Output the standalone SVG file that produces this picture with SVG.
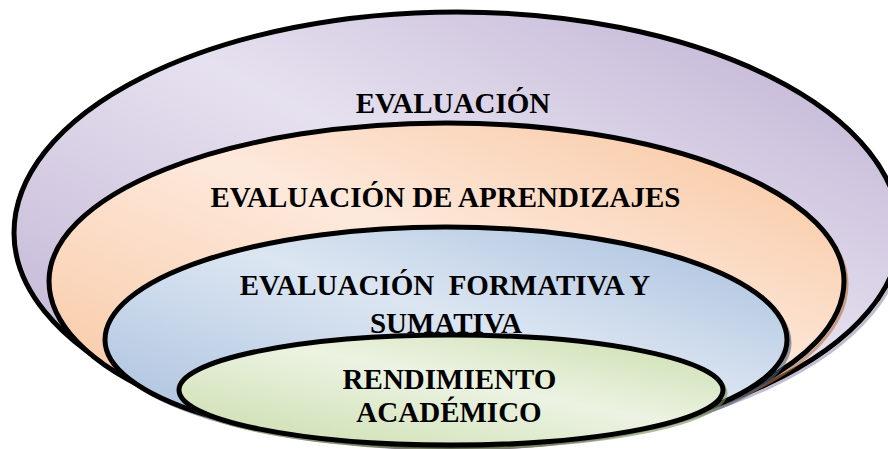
<svg xmlns="http://www.w3.org/2000/svg" xmlns:xlink="http://www.w3.org/1999/xlink" width="888" height="449" viewBox="0 0 888 449">
<style>
  .shape { stroke: #000; stroke-width: 5; }
  .shadow { fill: none; stroke-width: 3; opacity: 0.6; }
  .label { font-family: "Liberation Serif", "Times New Roman", serif; font-weight: bold; font-size: 29px; fill: #000; text-anchor: middle; }
</style>
<defs>
  <linearGradient id="gPurple" x1="1" y1="0" x2="0" y2="1">
    <stop offset="0" stop-color="#bcadd1"/>
    <stop offset="0.45" stop-color="#e6e1ef"/>
    <stop offset="1" stop-color="#bcadd1"/>
  </linearGradient>
  <linearGradient id="gOrange" x1="1" y1="0" x2="0" y2="1">
    <stop offset="0" stop-color="#f8c39a"/>
    <stop offset="0.45" stop-color="#fde9dc"/>
    <stop offset="1" stop-color="#f8c39a"/>
  </linearGradient>
  <linearGradient id="gBlue" x1="1" y1="0" x2="0" y2="1">
    <stop offset="0" stop-color="#a5bddc"/>
    <stop offset="0.45" stop-color="#dce6f2"/>
    <stop offset="1" stop-color="#a5bddc"/>
  </linearGradient>
  <linearGradient id="gGreen" x1="1" y1="0" x2="0" y2="1">
    <stop offset="0" stop-color="#c9dcaa"/>
    <stop offset="0.45" stop-color="#ecf3e2"/>
    <stop offset="1" stop-color="#c9dcaa"/>
  </linearGradient>
  <path id="pOuter" d="M 14 233 A 443 221 0 0 1 900 233 A 450 213 0 0 1 450 446 A 436 213 0 0 1 14 233 Z"/>
  <path id="pOrange" d="M 49 281 A 397.5 158 0 0 1 844 281 A 394 165 0 0 1 450 446 A 401 165 0 0 1 49 281 Z"/>
  <path id="pBlue" d="M 105 340 A 341 113 0 0 1 787 340 A 337 106 0 0 1 450 446 A 345 106 0 0 1 105 340 Z"/>
  <ellipse id="pGreen" cx="451" cy="390" rx="272" ry="55"/>
</defs>
<rect width="888" height="449" fill="#ffffff"/>

<g id="node-evaluacion">
  <use xlink:href="#pOuter" class="shadow" stroke="#9a8fb0" transform="translate(3,3)"/>
  <use xlink:href="#pOuter" class="shape" fill="url(#gPurple)"/>
  <text class="label" x="453" y="113">EVALUACIÓN</text>
</g>

<g id="node-aprendizajes">
  <use xlink:href="#pOrange" class="shadow" stroke="#b5773f" transform="translate(3,3)"/>
  <use xlink:href="#pOrange" class="shape" fill="url(#gOrange)"/>
  <text class="label" x="445.5" y="207">EVALUACIÓN DE APRENDIZAJES</text>
</g>

<g id="node-formativa">
  <use xlink:href="#pBlue" class="shadow" stroke="#4e5f78" transform="translate(3,3)"/>
  <use xlink:href="#pBlue" class="shape" fill="url(#gBlue)"/>
  <text class="label" x="445" y="295" xml:space="preserve">EVALUACIÓN  FORMATIVA Y</text>
  <text class="label" x="446" y="333">SUMATIVA</text>
</g>

<g id="node-rendimiento">
  <use xlink:href="#pGreen" class="shadow" stroke="#7d8f5c" transform="translate(3,3)"/>
  <use xlink:href="#pGreen" class="shape" fill="url(#gGreen)"/>
  <text class="label" x="449.5" y="389">RENDIMIENTO</text>
  <text class="label" x="449" y="422">ACADÉMICO</text>
</g>

<g id="connectors"></g>
</svg>
